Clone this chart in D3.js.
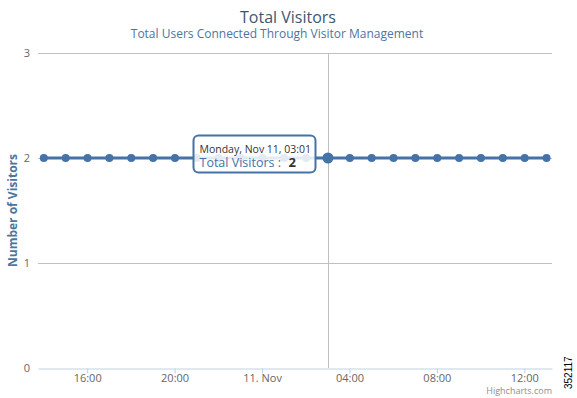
<!DOCTYPE html>
<html>
<head>
<meta charset="utf-8">
<script src="https://d3js.org/d3.v7.min.js"></script>
<style>
  body { margin: 0; background: #fff; }
  svg text { font-family: "Open Sans", "DejaVu Sans", sans-serif; }
</style>
</head>
<body>
<div id="chart"></div>
<script>
// hourly samples, Nov 10 14:01 -> Nov 11 13:01
var times = [];
for (var h = 0; h < 24; h++) times.push(new Date(2013, 10, 10, 14 + h, 1));
var visitors = [2,2,2,2,2,2,2,2,2,2,2,2,2,2,2,2,2,2,2,2,2,2,2,2];
var yTicks = [0, 1, 2, 3];
var hoverIndex = 13; // 03:01

var width = 577, height = 398;
var plotLeft = 38, plotRight = 552, plotTop = 53, plotBottom = 368;

var svg = d3.select("#chart").append("svg")
  .attr("width", width)
  .attr("height", height);

var x = d3.scaleTime()
  .domain([new Date(2013, 10, 10, 13, 45), new Date(2013, 10, 11, 13, 16)])
  .range([plotLeft, plotRight]);

var y = d3.scaleLinear().domain([0, 3]).range([plotBottom, plotTop]);

// grid lines
svg.append("g").selectAll("line")
  .data(yTicks.filter(function(d) { return d > 0; }))
  .enter().append("line")
  .attr("x1", plotLeft).attr("x2", plotRight)
  .attr("y1", function(d) { return y(d) + 0.5; })
  .attr("y2", function(d) { return y(d) + 0.5; })
  .style("stroke", "#c0c0c0")
  .style("stroke-width", 1);

// y labels
svg.append("g").selectAll("text")
  .data(yTicks)
  .enter().append("text")
  .attr("x", 30)
  .attr("y", function(d) { return y(d) + 4; })
  .attr("text-anchor", "end")
  .style("font-size", "11px")
  .style("fill", "#666")
  .text(function(d) { return d; });

// x axis
var xAxis = d3.axisBottom(x)
  .tickValues([new Date(2013, 10, 10, 16), new Date(2013, 10, 10, 20), new Date(2013, 10, 11, 0),
               new Date(2013, 10, 11, 4), new Date(2013, 10, 11, 8), new Date(2013, 10, 11, 12)])
  .tickFormat(function(d) { return d.getHours() === 0 ? "11. Nov" : d3.timeFormat("%H:%M")(d); })
  .tickSize(5)
  .tickSizeOuter(0);

var gx = svg.append("g")
  .attr("transform", "translate(0," + (plotBottom + 0.5) + ")")
  .call(xAxis);
gx.select(".domain").style("stroke", "#c0d0e0");
gx.selectAll(".tick line").style("stroke", "#c0d0e0");
gx.selectAll(".tick text")
  .attr("y", 6)
  .style("font-size", "11px")
  .style("fill", "#666")
  .style("font-family", "'Open Sans', 'DejaVu Sans', sans-serif");

// crosshair
svg.append("line")
  .attr("x1", Math.round(x(times[hoverIndex])) + 0.5)
  .attr("x2", Math.round(x(times[hoverIndex])) + 0.5)
  .attr("y1", plotTop).attr("y2", plotBottom)
  .style("stroke", "#c0c0c0")
  .style("stroke-width", 1);

// series
var line = d3.line()
  .x(function(d, i) { return x(times[i]); })
  .y(function(d) { return y(d); });

svg.append("path")
  .datum(visitors)
  .attr("d", line)
  .style("fill", "none")
  .style("stroke", "#4572a7")
  .style("stroke-width", 3);

svg.append("g").selectAll("circle")
  .data(visitors)
  .enter().append("circle")
  .attr("cx", function(d, i) { return x(times[i]); })
  .attr("cy", function(d) { return y(d); })
  .attr("r", function(d, i) { return i === hoverIndex ? 5.5 : 4; })
  .style("fill", "#4572a7");

// titles
svg.append("text")
  .attr("x", 288).attr("y", 23)
  .attr("text-anchor", "middle")
  .style("font-size", "16px")
  .style("fill", "#3e576f")
  .text("Total Visitors");

svg.append("text")
  .attr("x", 277).attr("y", 38)
  .attr("text-anchor", "middle")
  .style("font-size", "12px")
  .style("fill", "#4d759e")
  .text("Total Users Connected Through Visitor Management");

svg.append("text")
  .attr("transform", "translate(17," + (plotTop + plotBottom) / 2 + ") rotate(-90)")
  .attr("text-anchor", "middle")
  .style("font-size", "12px")
  .style("font-weight", "bold")
  .style("fill", "#4d759e")
  .text("Number of Visitors");

// tooltip
var tip = svg.append("g").attr("transform", "translate(193.5,135.5)");
tip.append("rect")
  .attr("width", 122).attr("height", 37)
  .attr("rx", 5)
  .style("fill", "rgba(255,255,255,0.85)")
  .style("stroke", "#4572a7")
  .style("stroke-width", 2);
tip.append("text")
  .attr("x", 6).attr("y", 17)
  .style("font-size", "10.5px")
  .style("fill", "#333")
  .text("Monday, Nov 11, 03:01");
tip.append("text")
  .attr("x", 6).attr("y", 31)
  .style("font-size", "12.5px")
  .style("fill", "#4572a7")
  .text("Total Visitors :");
tip.append("text")
  .attr("x", 95).attr("y", 31)
  .style("font-size", "13px")
  .style("font-weight", "bold")
  .style("fill", "#333")
  .text(visitors[hoverIndex]);

// credits
svg.append("text")
  .attr("x", 552).attr("y", 394)
  .attr("text-anchor", "end")
  .style("font-size", "9px")
  .style("fill", "#909090")
  .text("Highcharts.com");

svg.append("text")
  .attr("transform", "translate(572,389) rotate(-90)")
  .style("font-size", "10px")
  .style("fill", "#000")
  .style("font-family", "Arial, 'Liberation Sans', sans-serif")
  .text("352117");
</script>
</body>
</html>
